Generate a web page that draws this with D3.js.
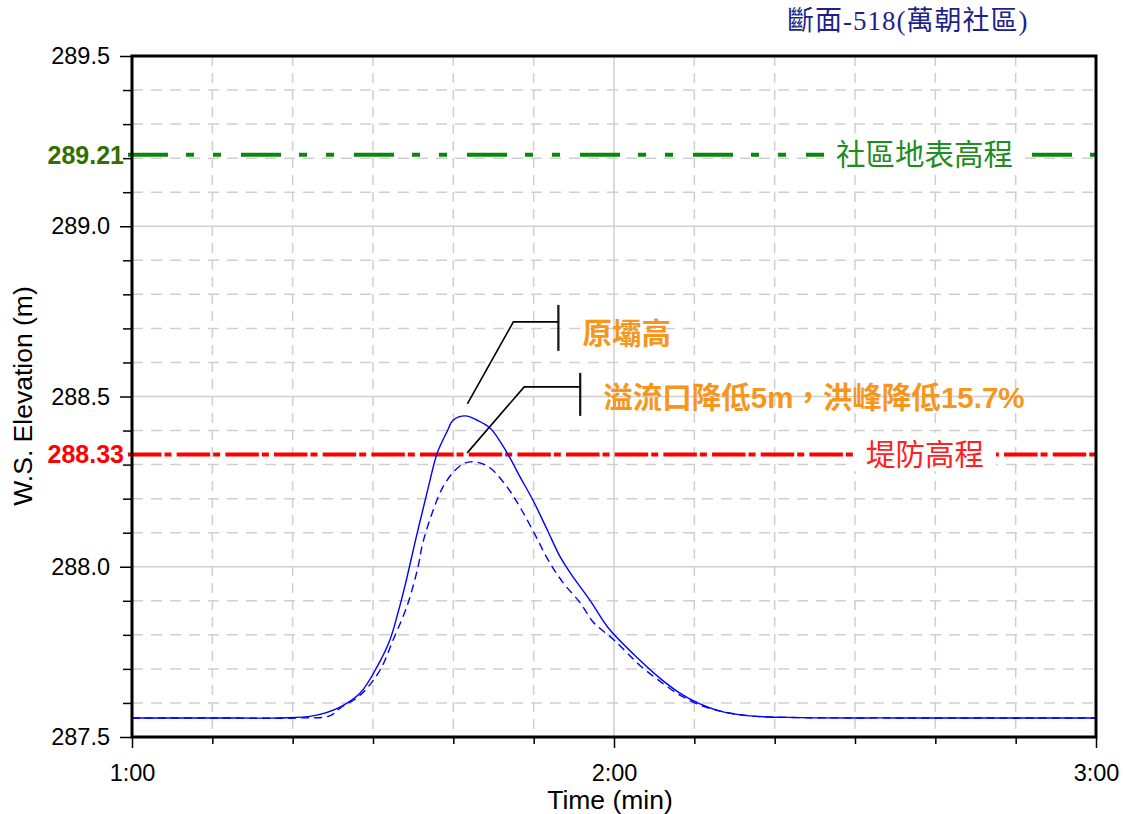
<!DOCTYPE html>
<html>
<head>
<meta charset="utf-8">
<script src="https://cdn.jsdelivr.net/npm/d3@7"></script>
<style>
  html, body { margin: 0; padding: 0; background: #fff; }
  svg { display: block; }
</style>
</head>
<body>
<svg id="chart" width="1124" height="814"></svg>
<script>
// Time in minutes (1:00 = 60), water-surface elevation in metres
const timeOriginal = [60, 70, 78.4, 82.5, 85.9, 88.4, 90.5, 92.1, 93.1, 94.0, 95.5, 96.8, 98.0, 99.2, 100.0, 101.5, 102.9, 104.6, 106.7, 108.3, 109.9, 111.7, 113.3, 114.9, 117.0, 119.3, 123.2, 125.7, 128.2, 130.7, 133.2, 136.9, 143.2, 155, 168, 180];
const elevOriginal = [287.556, 287.556, 287.556, 287.562, 287.588, 287.629, 287.706, 287.785, 287.864, 287.946, 288.099, 288.225, 288.334, 288.396, 288.431, 288.443, 288.431, 288.407, 288.334, 288.264, 288.196, 288.108, 288.029, 287.970, 287.902, 287.820, 287.726, 287.673, 287.629, 287.597, 287.576, 287.562, 287.557, 287.556, 287.556, 287.556];

const timeLowered = [60, 70, 80.9, 84.6, 85.9, 88.0, 89.6, 91.1, 92.5, 94.2, 95.6, 96.2, 97.5, 98.7, 100.0, 101.2, 102.1, 103.3, 104.6, 106.7, 108.3, 110.2, 111.8, 113.7, 115.8, 117.4, 120.0, 123.2, 125.7, 128.2, 130.7, 133.2, 136.9, 143.2, 155, 168, 180];
const elevLowered = [287.556, 287.556, 287.556, 287.562, 287.585, 287.615, 287.653, 287.706, 287.785, 287.882, 287.999, 288.070, 288.167, 288.234, 288.278, 288.302, 288.308, 288.305, 288.290, 288.234, 288.175, 288.093, 288.020, 287.952, 287.894, 287.838, 287.785, 287.711, 287.664, 287.623, 287.594, 287.576, 287.562, 287.557, 287.556, 287.556, 287.556];

// Reference elevations
const communityGround = 289.21;
const leveeCrest = 288.33;

// Axis ticks
const yMajorTicks = [287.5, 288.0, 288.5, 289.0, 289.5];
const yMinorTicks = [287.6, 287.7, 287.8, 287.9, 288.1, 288.2, 288.3, 288.4, 288.6, 288.7, 288.8, 288.9, 289.1, 289.2, 289.3, 289.4];
const xMajorTicks = [60, 120, 180];
const xMinorTicks = [70, 80, 90, 100, 110, 130, 140, 150, 160, 170];

// Text
const titleText = "斷面-518(萬朝社區)";
const yTitle = "W.S. Elevation (m)";
const xTitle = "Time (min)";
const groundLabel = "社區地表高程";
const leveeLabel = "堤防高程";
const noteOriginal = "原壩高";
const noteLoweredParts = [["溢流口降低", false], ["5m", true], ["，洪峰降低", false], ["15.7%", true]];

const svg = d3.select("#chart");
const plotLeft = 132, plotRight = 1096, plotTop = 56, plotBottom = 737;

const x = d3.scaleLinear().domain([60, 180]).range([plotLeft, plotRight]);
const y = d3.scaleLinear().domain([287.5, 289.5]).range([plotBottom, plotTop]);

const fmtTime = m => Math.floor(m / 60) + ":" + String(Math.round(m % 60)).padStart(2, "0");
const latin = "Arial, 'Liberation Sans', sans-serif";
const cjk = "'Noto Sans CJK TC', 'Noto Sans CJK SC', sans-serif";

// Grid
const grid = svg.append("g");
grid.selectAll(".hminor").data(yMinorTicks).join("line")
  .attr("x1", plotLeft).attr("x2", plotRight)
  .attr("y1", d => y(d)).attr("y2", d => y(d))
  .attr("stroke", "#cfcfcf").attr("stroke-width", 1.5).attr("stroke-dasharray", "11,8");
grid.selectAll(".hmajor").data(yMajorTicks.slice(1, -1)).join("line")
  .attr("x1", plotLeft).attr("x2", plotRight)
  .attr("y1", d => y(d)).attr("y2", d => y(d))
  .attr("stroke", "#cfcfcf").attr("stroke-width", 1.5);
grid.selectAll(".vminor").data(xMinorTicks).join("line")
  .attr("y1", plotTop).attr("y2", plotBottom)
  .attr("x1", d => x(d)).attr("x2", d => x(d))
  .attr("stroke", "#cfcfcf").attr("stroke-width", 1.5).attr("stroke-dasharray", "10,7");
grid.selectAll(".vmajor").data(xMajorTicks.slice(1, -1)).join("line")
  .attr("y1", plotTop).attr("y2", plotBottom)
  .attr("x1", d => x(d)).attr("x2", d => x(d))
  .attr("stroke", "#cfcfcf").attr("stroke-width", 1.5);

// Reference lines
svg.append("line")
  .attr("x1", plotLeft - 4).attr("x2", plotRight)
  .attr("y1", y(communityGround)).attr("y2", y(communityGround))
  .attr("stroke", "#0b870b").attr("stroke-width", 4)
  .attr("stroke-dasharray", "40,18,8,19,8,20");
svg.append("line")
  .attr("x1", plotLeft - 4).attr("x2", plotRight)
  .attr("y1", y(leveeCrest)).attr("y2", y(leveeCrest))
  .attr("stroke", "#ff0000").attr("stroke-width", 4)
  .attr("stroke-dasharray", "33.5,3,7,5.17");

// Line labels on white boxes
function boxedLabel(text, xStart, yVal, color) {
  const g = svg.append("g");
  const t = g.append("text")
    .attr("x", xStart).attr("y", y(yVal))
    .attr("dy", "0.36em")
    .attr("font-family", cjk).attr("font-size", 29.5)
    .attr("fill", color).text(text);
  const b = t.node().getBBox();
  g.insert("rect", "text")
    .attr("x", b.x - 12).attr("y", b.y + 2)
    .attr("width", b.width + 24).attr("height", b.height - 4)
    .attr("fill", "#fff");
}
boxedLabel(groundLabel, 836, communityGround, "#1e8c1e");
boxedLabel(leveeLabel, 866, leveeCrest, "#ff2020");

// Hydrographs
const line = d3.line().x(d => x(d[0])).y(d => y(d[1])).curve(d3.curveCatmullRom.alpha(0.5));
const origPts = d3.zip(timeOriginal, elevOriginal);
const lowPts = d3.zip(timeLowered, elevLowered);
svg.append("path").attr("d", line(lowPts))
  .attr("fill", "none").attr("stroke", "#0000ff").attr("stroke-width", 1.4)
  .attr("stroke-dasharray", "8,5");
svg.append("path").attr("d", line(origPts))
  .attr("fill", "none").attr("stroke", "#0000ff").attr("stroke-width", 1.4);

// Frame
svg.append("rect")
  .attr("x", plotLeft).attr("y", plotTop)
  .attr("width", plotRight - plotLeft).attr("height", plotBottom - plotTop)
  .attr("fill", "none").attr("stroke", "#000").attr("stroke-width", 3);

// Axes
const yAxisMajor = d3.axisLeft(y).tickValues(yMajorTicks).tickSize(11).tickPadding(10)
  .tickFormat(d3.format(".1f"));
const yAxisMinor = d3.axisLeft(y).tickValues(yMinorTicks).tickSize(8).tickFormat("");
const xAxisMajor = d3.axisBottom(x).tickValues(xMajorTicks).tickSize(10).tickPadding(16)
  .tickFormat(fmtTime);
const xAxisMinor = d3.axisBottom(x).tickValues(xMinorTicks).tickSize(6).tickFormat("");

function styleAxis(g) {
  g.select(".domain").remove();
  g.selectAll(".tick line").attr("stroke", "#000").attr("stroke-width", 1.5);
  g.selectAll(".tick text").attr("font-family", latin).attr("font-size", 23.5).attr("fill", "#000");
}
svg.append("g").attr("transform", `translate(${plotLeft - 1},0)`).call(yAxisMinor).call(styleAxis);
svg.append("g").attr("transform", `translate(${plotLeft - 1},0)`).call(yAxisMajor).call(styleAxis);
svg.append("g").attr("transform", `translate(0,${plotBottom + 1})`).call(xAxisMinor).call(styleAxis);
svg.append("g").attr("transform", `translate(0,${plotBottom + 1})`).call(xAxisMajor).call(styleAxis);

// Highlighted reference values on the y axis
[[communityGround, "#336e00"], [leveeCrest, "#ff0000"]].forEach(([v, c]) => {
  svg.append("text")
    .attr("x", plotLeft - 8).attr("y", y(v)).attr("dy", "0.36em")
    .attr("text-anchor", "end")
    .attr("font-family", latin).attr("font-size", 25).attr("font-weight", "bold")
    .attr("fill", c).text(v.toFixed(2));
});

// Axis titles
svg.append("text")
  .attr("transform", `translate(32,396) rotate(-90)`)
  .attr("text-anchor", "middle")
  .attr("font-family", latin).attr("font-size", 26.5).attr("fill", "#000")
  .text(yTitle);
svg.append("text")
  .attr("x", x(120) - 4).attr("y", 809)
  .attr("text-anchor", "middle")
  .attr("font-family", latin).attr("font-size", 26.5).attr("fill", "#000")
  .text(xTitle);

// Title
svg.append("text")
  .attr("x", 787).attr("y", 30)
  .attr("font-family", "'Liberation Serif', 'Noto Sans CJK TC', serif")
  .attr("font-size", 27).attr("letter-spacing", 1).attr("fill", "#1f1f8c")
  .text(titleText);

// Peak annotations
const peakOrig = origPts.reduce((a, b) => (b[1] > a[1] ? b : a));
const peakLow = lowPts.reduce((a, b) => (b[1] > a[1] ? b : a));
const orange = "#f5961e";

function leader(peak, dx0, dy0, dx1, dy1, dx2, barHalf) {
  const px = x(peak[0]) + dx0, py = y(peak[1]) + dy0;
  const kx = px + dx1, ky = py + dy1;
  const ex = kx + dx2;
  svg.append("path")
    .attr("d", `M${px},${py}L${kx},${ky}L${ex},${ky}`)
    .attr("fill", "none").attr("stroke", "#000").attr("stroke-width", 1.6);
  svg.append("line")
    .attr("x1", ex).attr("x2", ex).attr("y1", ky - barHalf[0]).attr("y2", ky + barHalf[1])
    .attr("stroke", "#111").attr("stroke-width", 2.2);
  return [ex, ky];
}
const [e1x, e1y] = leader(peakOrig, 2, -12, 46, -82, 45, [17, 29]);
svg.append("text")
  .attr("x", e1x + 24).attr("y", e1y + 11).attr("dy", "0.36em")
  .attr("font-family", cjk).attr("font-size", 29.5).attr("font-weight", "bold")
  .attr("fill", orange).text(noteOriginal);

const [e2x, e2y] = leader(peakLow, -3, -9, 57, -66, 56, [14, 29]);
const t2 = svg.append("text")
  .attr("x", e2x + 23).attr("y", e2y + 11).attr("dy", "0.36em")
  .attr("font-size", 29.5).attr("font-weight", "bold").attr("fill", orange);
noteLoweredParts.forEach(([s, isLatin]) => {
  t2.append("tspan").attr("font-family", isLatin ? latin : cjk).text(s);
});
</script>
</body>
</html>
